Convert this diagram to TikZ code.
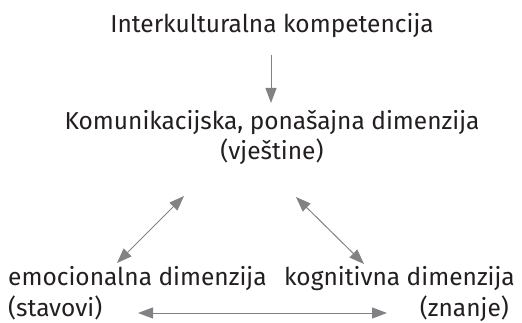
\documentclass[tikz,border=0pt]{standalone}
\usepackage{fontspec}
\setmainfont{Fira Sans}
\usetikzlibrary{positioning, arrows.meta}
\definecolor{textgray}{HTML}{231F20}
\definecolor{arrowgray}{HTML}{808285}
\tikzset{
  x=1pt, y=-1pt, % one unit is one pixel of the figure, y runs downwards
  dim/.style={text=textgray, font=\fontsize{24.5}{30.5}\selectfont, inner sep=0pt}, % text of every dimension
  link/.style={draw=arrowgray, line width=1pt, -{Triangle[length=15pt, width=11pt]}}, % arrow in one direction
  bilink/.style={link, {Triangle[length=15pt, width=11pt]}-{Triangle[length=15pt, width=11pt]}}, % arrow in both directions
}

\begin{document}
\begin{tikzpicture}
  \useasboundingbox (0,0) rectangle (522,323);

  % base of a two-line node is the base of its last line
  \node[dim, anchor=base] (IK_KOMP) at (272,33) {Interkulturalna kompetencija};
  \node[dim, anchor=base, align=center] (KOM_DIM) at (272,160) {Komunikacijska, ponašajna dimenzija\\(vještine)};
  \node[dim, anchor=base west, align=left] (EMO_DIM) at (8,316) {emocionalna dimenzija\\(stavovi)};
  \node[dim, anchor=base east, align=right] (KOG_DIM) at (515,316) {kognitivna dimenzija\\(znanje)\hspace*{6pt}};

  \draw[link] ([shift={(-1,22)}]IK_KOMP.base) -- ([shift={(-1,-57)}]KOM_DIM.base);
  \draw[bilink] ([shift={(-88,36)}]KOM_DIM.base) -- ([shift={(109,-53)}]EMO_DIM.base west);
  \draw[bilink] ([shift={(24,37)}]KOM_DIM.base) -- ([shift={(-151,-52)}]KOG_DIM.base east);
  \draw[bilink] ([shift={(130,-3)}]EMO_DIM.base west) -- ([shift={(-128,-3)}]KOG_DIM.base east);
\end{tikzpicture}
\end{document}
